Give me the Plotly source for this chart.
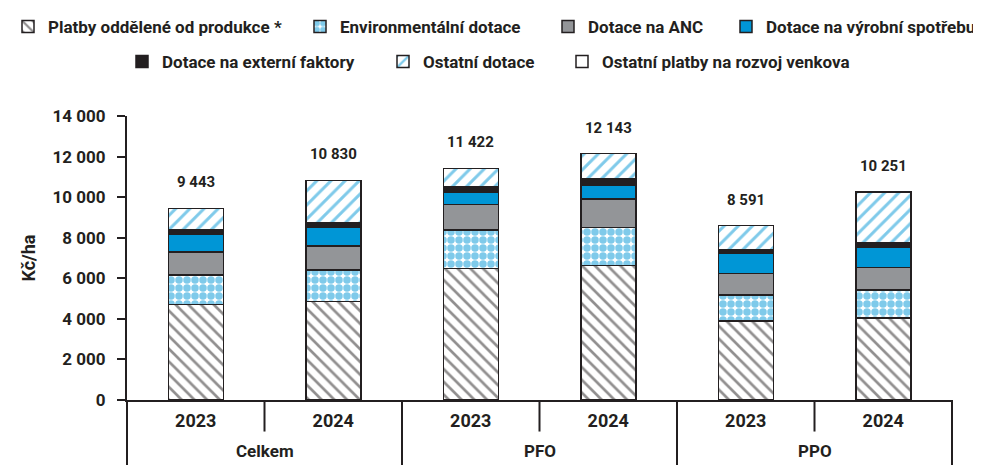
import plotly.graph_objects as go

# ---- data ----
groups = ["Celkem", "Celkem", "PFO", "PFO", "PPO", "PPO"]
years = ["2023", "2024", "2023", "2024", "2023", "2024"]

platby_oddelene = [4700, 4862, 6493, 6621, 3905, 4037]
environmentalni = [1473, 1558, 1881, 1886, 1277, 1376]
dotace_anc = [1115, 1178, 1262, 1390, 1066, 1129]
vyrobni_spotreba = [884, 899, 619, 687, 982, 1012]
externi_faktory = [211, 246, 280, 330, 196, 196]
ostatni_dotace = [1060, 2087, 887, 1229, 1165, 2501]
ostatni_platby_venkov = [0, 0, 0, 0, 0, 0]
totals = [9443, 10830, 11422, 12143, 8591, 10251]
total_labels = ["9 443", "10 830", "11 422", "12 143", "8 591", "10 251"]

y_tickvals = [0, 2000, 4000, 6000, 8000, 10000, 12000, 14000]
y_ticktext = ["0", "2 000", "4 000", "6 000", "8 000", "10 000", "12 000", "14 000"]

# ---- styles ----
INK = "#231f20"
BLUE = "#0096d6"
GRAY = "#939598"
FAM = "Roboto"
W, H = 973, 457  # page adds an 8px body margin


def f(size):
    return dict(family=FAM, size=size, color=INK, weight="bold")


xpos = list(range(len(years)))
line = dict(color=INK, width=1.5)

# (name, values, marker, legend left edge px, legend row)
series = [
    ("Platby oddělené od produkce *", platby_oddelene,
     dict(color="white", pattern=dict(shape="\\", fgcolor=INK, bgcolor="white", size=9, solidity=0.3), line=line),
     0, 0),
    ("Environmentální dotace", environmentalni,
     dict(color="white", pattern=dict(shape=".", fgcolor=BLUE, bgcolor="white", size=8, solidity=0.7), line=line),
     292, 0),
    ("Dotace na ANC", dotace_anc, dict(color=GRAY, line=line), 540, 0),
    ("Dotace na výrobní spotřebu", vyrobni_spotreba, dict(color=BLUE, line=line), 718, 0),
    ("Dotace na externí faktory", externi_faktory, dict(color=INK, line=line), 114, 1),
    ("Ostatní dotace", ostatni_dotace,
     dict(color="white", pattern=dict(shape="/", fgcolor=BLUE, bgcolor="white", size=10, solidity=0.3), line=line),
     375, 1),
    ("Ostatní platby na rozvoj venkova", ostatni_platby_venkov, dict(color="white", line=line), 554, 1),
]
row_y = [1 - 19 / H, 1 - 54 / H]

fig = go.Figure()
legends = {}
for k, (name, vals, marker, lx, row) in enumerate(series):
    lid = "legend" if k == 0 else f"legend{k + 1}"
    fig.add_trace(go.Bar(x=xpos, y=vals, name=name, marker=marker, legend=lid, width=0.4))
    legends[lid] = dict(orientation="h", xref="container", x=lx / W, xanchor="left",
                        yref="container", y=row_y[row], yanchor="middle",
                        bgcolor="rgba(0,0,0,0)", itemwidth=30, font=f(17))

for i, (t, lab) in enumerate(zip(totals, total_labels)):
    fig.add_annotation(x=xpos[i], y=t, text=lab, showarrow=False, yanchor="bottom", yshift=15,
                       font=f(15))

# group labels and category dividers
group_names = list(dict.fromkeys(groups))
for g in group_names:
    idx = [i for i, gg in enumerate(groups) if gg == g]
    center = sum(idx) / len(idx)
    fig.add_annotation(x=center, y=-0.181, yref="paper", text=g, showarrow=False,
                       yanchor="middle", font=f(17))
    for a, b in zip(idx[:-1], idx[1:]):
        fig.add_shape(type="line", xref="x", yref="paper", x0=(a + b) / 2, x1=(a + b) / 2,
                      y0=0, y1=-0.111, line=dict(color=INK, width=2))
for i in range(1, len(groups)):
    if groups[i] != groups[i - 1]:
        fig.add_shape(type="line", xref="x", yref="paper", x0=i - 0.5, x1=i - 0.5,
                      y0=0, y1=-0.3, line=dict(color=INK, width=2))
for edge in (0, 1):
    fig.add_shape(type="line", xref="paper", yref="paper", x0=edge, x1=edge,
                  y0=0, y1=-0.3, line=dict(color=INK, width=2))

fig.update_layout(
    width=W, height=H,
    margin=dict(l=119, r=29, t=108, b=64.5, autoexpand=False),
    barmode="stack",
    plot_bgcolor="white", paper_bgcolor="white",
    font=f(18),
    showlegend=True,
    xaxis=dict(range=[-0.5, len(years) - 0.5], tickvals=xpos, ticktext=years,
               showline=True, linecolor=INK, linewidth=2, ticks="", showgrid=False,
               zeroline=False, ticklabelstandoff=3, tickfont=f(18)),
    yaxis=dict(range=[0, 14000], tickvals=y_tickvals, ticktext=y_ticktext,
               showline=True, linecolor=INK, linewidth=2, ticks="outside", ticklen=8,
               tickcolor=INK, tickwidth=2, showgrid=False, zeroline=False,
               ticklabelstandoff=8, tickfont=f(17),
               title=dict(text="Kč/ha", standoff=12, font=f(18))),
)
fig.update_layout(**legends)

fig.write_html("out.html")
